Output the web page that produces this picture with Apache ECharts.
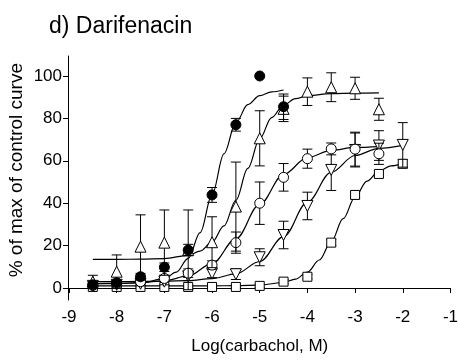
<!DOCTYPE html>
<html>
<head>
<meta charset="utf-8">
<script src="https://cdn.jsdelivr.net/npm/echarts@6/dist/echarts.min.js"></script>
<style>html,body{margin:0;padding:0;background:#fff;}#c{width:461px;height:361px;}</style>
</head>
<body>
<div id="c"></div>
<script>
// ---- data ----
const doses = [-8.5,-8,-7.5,-7,-6.5,-6,-5.5,-5,-4.5,-4,-3.5,-3,-2.5,-2];

// filled circles
const filledY   = [1.5,2.5,5.3,9.8,17.9,43.9,77,100,85.5,null,null,null,null,null];
const filledErr = [1.5,1,1.6,2,2.7,3.5,3,0,6,null,null,null,null,null];
// open triangles
const triY   = [3,7.7,19.5,21.4,18,21.6,38.4,70.6,84.5,92.6,94.7,94.2,84.3,null];
const triErr = [3,7.9,15,15.4,18.8,12,21,13,6,6.5,6.8,5.2,5.2,null];
// open circles
const circY   = [1.2,2,3,4.5,7,10.8,21.4,40,52.2,61,65.6,65.5,63.3,null];
const circErr = [1,1,1,1.5,2,2,5,10,6.5,4.5,2.8,8,5,null];
// open down-triangles
const dtriY   = [1,1.5,2,3,5.5,6.9,6.5,14.5,25,38.7,55.7,65.1,67.2,67.5];
const dtriErr = [1,1,1,1.5,2,2,2.5,4,6.5,6.5,9.7,8,7,10.5];
// open squares
const sqY   = [0.5,0.5,0.5,0.5,0.5,0.5,0.5,1,3,5.3,21.4,43.9,53.8,58.6];
const sqErr = [0.5,0.5,0.5,0.5,0.5,0.5,0.5,0.8,1,1,1.5,1.5,1.5,2];

// fitted curves, points
const filledCurve = [[-8.5,2.0],[-8,2.1],[-7.5,2.4],[-7,4.4],[-6.75,7.5],[-6.5,14.0],[-6.25,26.1],[-6,44.0],[-5.75,63.3],[-5.5,78.0],[-5.25,86.5],[-5,90.7],[-4.75,92.5],[-4.5,93.4]];
const triCurve = [[-8.5,13.5],[-8,13.5],[-7.5,13.6],[-7,13.9],[-6.5,15.4],[-6.25,17.4],[-6,21.6],[-5.75,29.3],[-5.5,41.4],[-5.25,56.4],[-5,70.4],[-4.75,80.4],[-4.5,86.3],[-4.25,89.3],[-4,90.7],[-3.5,91.7],[-3,91.9],[-2.5,92.0]];
const circCurve = [[-8.5,2.1],[-8,2.2],[-7.5,2.5],[-7,3.4],[-6.5,5.7],[-6,11.5],[-5.5,23.2],[-5,39.5],[-4.5,53.6],[-4,61.5],[-3.5,64.9],[-3,66.3],[-2.5,66.7]];
const dtriCurve = [[-8.5,3.0],[-8,3.0],[-7.5,3.1],[-7,3.2],[-6.5,3.5],[-6,4.4],[-5.5,6.7],[-5,12.5],[-4.5,24.2],[-4,40.5],[-3.5,54.6],[-3,62.5],[-2.5,65.9],[-2,67.3]];
const sqCurve = [[-8.5,1.0],[-7,1.0],[-6,1.0],[-5.5,1.1],[-5,1.4],[-4.5,2.6],[-4.25,4.2],[-4,7.5],[-3.75,13.2],[-3.5,21.9],[-3.25,32.7],[-3,42.9],[-2.75,50.4],[-2.5,55.1],[-2.25,57.6],[-2,58.8]];

const xTicks = [-9,-8,-7,-6,-5,-4,-3,-2,-1];
const yTicks = [0,20,40,60,80,100];

// ---- chart ----
const FONT = 'Liberation Sans, Arial, sans-serif';
function pts(ys){ const o=[]; doses.forEach((d,i)=>{ if(ys[i]!=null) o.push([d,ys[i]]); }); return o; }
function errs(ys,es){ const o=[]; doses.forEach((d,i)=>{ if(ys[i]!=null && es[i]) o.push([d,ys[i]-es[i],ys[i]+es[i]]); }); return o; }
function errSeries(ys,es,z){
  return {
    type:'custom', data: errs(ys,es), z:z, silent:true,
    encode:{x:0,y:[1,2]},
    renderItem(params, api){
      const x=api.value(0), lo=api.coord([x,api.value(1)]), hi=api.coord([x,api.value(2)]);
      const w=5, st={stroke:'#000',lineWidth:1};
      return {type:'group',children:[
        {type:'line',shape:{x1:lo[0],y1:lo[1],x2:hi[0],y2:hi[1]},style:st},
        {type:'line',shape:{x1:lo[0]-w,y1:lo[1],x2:lo[0]+w,y2:lo[1]},style:st},
        {type:'line',shape:{x1:hi[0]-w,y1:hi[1],x2:hi[0]+w,y2:hi[1]},style:st}
      ]};
    }
  };
}
function curve(data){
  return {type:'line',data:data,smooth:0.35,smoothMonotone:'x',showSymbol:false,symbol:'none',
    lineStyle:{color:'#000',width:1.2},z:2,silent:true};
}
function scat(data,symbol,fill,size,rot,z){
  return {type:'scatter',data:data,symbol:symbol,symbolSize:size,symbolRotate:rot||0,z:z,
    itemStyle:{color:fill,borderColor:'#000',borderWidth:1,opacity:1},silent:true};
}

const chart = echarts.init(document.getElementById('c'),null,{renderer:'canvas'});
chart.setOption({
  animation:false,
  backgroundColor:'#fff',
  title:{text:'d) Darifenacin',left:49,top:15,padding:0,
    textStyle:{fontFamily:FONT,fontSize:23,fontWeight:'normal',color:'#000'}},
  grid:{left:69,right:9,top:56,bottom:61,containLabel:false},
  xAxis:{type:'value',min:-9,max:-1,interval:1,
    name:'Log(carbachol, M)',nameLocation:'middle',nameGap:38,
    nameTextStyle:{fontFamily:FONT,fontSize:17,color:'#000'},
    axisLine:{lineStyle:{color:'#000',width:1}},
    axisTick:{length:5,lineStyle:{color:'#000'}},
    axisLabel:{margin:9,fontFamily:FONT,fontSize:17,color:'#000',showMinLabel:true,showMaxLabel:true,
      customValues:xTicks},
    splitLine:{show:false}},
  yAxis:{type:'value',min:-5.66,max:109.43,offset:1,
    axisLine:{show:true,lineStyle:{color:'#000',width:1}},
    axisTick:{show:true,length:5,lineStyle:{color:'#000'},customValues:yTicks},
    axisLabel:{margin:6,fontFamily:FONT,fontSize:17,color:'#000',customValues:yTicks},
    splitLine:{show:false}},
  graphic:[{type:'text',left:7,top:63,rotation:Math.PI/2,
    style:{text:'% of max of control curve',font:'19px '+FONT,fill:'#000'}}],
  series:[
    curve(sqCurve),curve(dtriCurve),curve(circCurve),curve(triCurve),curve(filledCurve),
    errSeries(sqY,sqErr,3), scat(pts(sqY),'rect','#fff',9,0,4),
    errSeries(dtriY,dtriErr,5), scat(pts(dtriY),'triangle','#fff',11,180,6),
    errSeries(circY,circErr,7), scat(pts(circY),'circle','#fff',10,0,8),
    errSeries(triY,triErr,9), scat(pts(triY),'triangle','#fff',11,0,10),
    errSeries(filledY,filledErr,11), scat(pts(filledY),'circle','#000',10,0,12)
  ]
});
</script>
</body>
</html>
